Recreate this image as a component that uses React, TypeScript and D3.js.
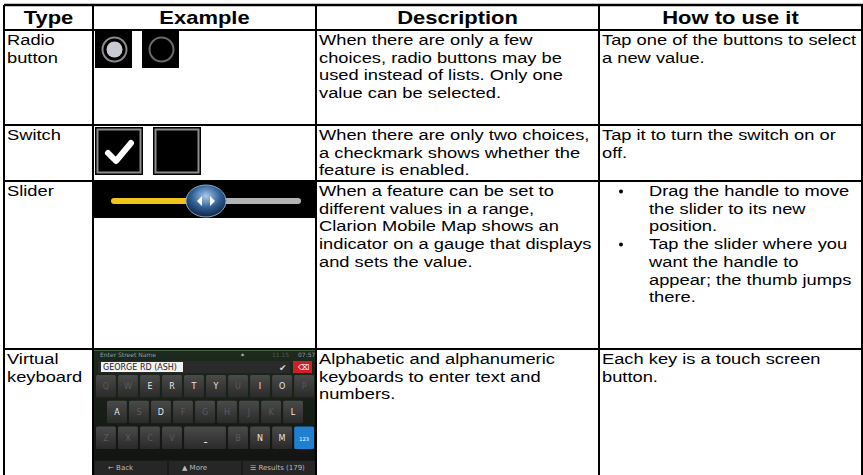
import * as d3 from "d3";

// table content
const COLUMNS = ["Type", "Example", "Description", "How to use it"];

const TYPES = [["Radio", "button"], ["Switch"], ["Slider"], ["Virtual", "keyboard"]];

const DESCRIPTIONS = [
  ["When there are only a few", "choices, radio buttons may be", "used instead of lists. Only one", "value can be selected."],
  ["When there are only two choices,", "a checkmark shows whether the", "feature is enabled."],
  ["When a feature can be set to", "different values in a range,", "Clarion Mobile Map shows an", "indicator on a gauge that displays", "and sets the value."],
  ["Alphabetic and alphanumeric", "keyboards to enter text and", "numbers."],
];

const HOW_TO = [
  [["Tap one of the buttons to select", "a new value."]],
  [["Tap it to turn the switch on or", "off."]],
  [
    ["Drag the handle to move", "the slider to its new", "position."],
    ["Tap the slider where you", "want the handle to", "appear; the thumb jumps", "there."],
  ],
  [["Each key is a touch screen", "button."]],
];

// keyboard screenshot content
const KEY_ROWS = [
  ["Q", "W", "E", "R", "T", "Y", "U", "I", "O", "P"],
  ["A", "S", "D", "F", "G", "H", "J", "K", "L"],
  ["Z", "X", "C", "V", "␣", "B", "N", "M", "123"],
];
const ACTIVE_KEYS = ["E", "R", "T", "Y", "I", "O", "A", "D", "L", "N", "M", "␣"];
const BOTTOM_BAR = ["← Back", "▲ More", "☰ Results (179)"];

// layout
const W = 863;
const H = 475;
const colEdges = [4, 93, 316, 599, 862];
const rowEdges = [5, 30, 125, 181, 349, 475];
const LH = 17.7;
const TOP = 15;
const SX = 1.22;
const FONT = "'Liberation Sans', Arial, sans-serif";

const x = d3.scaleOrdinal<string, number>().domain(COLUMNS).range(colEdges.slice(0, 4));
const colW = (c: string) => colEdges[COLUMNS.indexOf(c) + 1] - x(c);
const rowTop = (i: number) => rowEdges[i + 1];
const rowH = (i: number) => rowEdges[i + 2] - rowEdges[i + 1];

function Lines({ lines, x0, y0 }: { lines: string[]; x0: number; y0: number }) {
  return (
    <>
      {lines.map((t, i) => (
        <text
          key={i}
          transform={`translate(${x0},${y0 + i * LH}) scale(${SX},1)`}
          fontSize={15}
          fontFamily={FONT}
          fill="#000"
        >
          {t}
        </text>
      ))}
    </>
  );
}

function Radio({ x0, y0 }: { x0: number; y0: number }) {
  const s = 37;
  return (
    <g>
      {[0, 1].map((i) => {
        const bx = x0 + i * (s + 10);
        return (
          <g key={i}>
            <rect x={bx} y={y0} width={s} height={s} fill="#000" />
            <circle cx={bx + s / 2 + 1} cy={y0 + s / 2} r={12} fill="none" stroke={i === 0 ? "#8a8a8a" : "#6a6a6a"} strokeWidth={2} />
            {i === 0 && <circle cx={bx + s / 2 + 1} cy={y0 + s / 2} r={8} fill="#c8ccd2" />}
          </g>
        );
      })}
    </g>
  );
}

function Switch({ x0, y0 }: { x0: number; y0: number }) {
  const s = 48;
  return (
    <g>
      {[0, 1].map((i) => {
        const bx = x0 + i * (s + 10);
        return (
          <g key={i}>
            <rect x={bx} y={y0} width={s} height={s} fill="#000" />
            <rect x={bx + 2.5} y={y0 + 2.5} width={s - 5} height={s - 5} fill="none" stroke="#8c8c8c" strokeWidth={2} />
            {i === 0 && (
              <path
                d={`M${bx + 13},${y0 + 26} L${bx + 21},${y0 + 34} L${bx + 36},${y0 + 16}`}
                fill="none"
                stroke="#fff"
                strokeWidth={6}
                strokeLinecap="round"
                strokeLinejoin="round"
              />
            )}
          </g>
        );
      })}
    </g>
  );
}

function Slider({ x0, y0, w }: { x0: number; y0: number; w: number }) {
  const h = 36;
  const track = d3.scaleLinear().domain([0, 1]).range([x0 + 17, x0 + w - 15]);
  const knob = 0.5;
  const cy = y0 + h / 2 + 1;
  return (
    <g>
      <defs>
        <radialGradient id="knob" cx="50%" cy="35%" r="65%">
          <stop offset="0%" stopColor="#a9c9ea" />
          <stop offset="55%" stopColor="#2f5f95" />
          <stop offset="100%" stopColor="#0f2440" />
        </radialGradient>
      </defs>
      <rect x={x0} y={y0} width={w} height={h} fill="#000" />
      <rect x={track(knob)} y={cy - 3} width={track(1) - track(knob)} height={6} rx={3} fill="#b4b4b4" />
      <rect x={track(0)} y={cy - 3} width={track(knob) - track(0)} height={6} rx={3} fill="#f0c419" />
      <ellipse cx={track(knob)} cy={cy} rx={20} ry={16} fill="url(#knob)" stroke="#8aa7c7" strokeWidth={1} />
      <path d={`M${track(knob) - 9},${cy} l5,-5 v10 z M${track(knob) + 9},${cy} l-5,-5 v10 z`} fill="#fff" />
    </g>
  );
}

function Keyboard({ x0, y0, w, h }: { x0: number; y0: number; w: number; h: number }) {
  const pad = 2;
  const kx = d3.scaleBand().domain(d3.range(10).map(String)).range([x0 + pad, x0 + w - pad]).paddingInner(0.1);
  const rowY = d3.scaleBand().domain(d3.range(3).map(String)).range([y0 + 25, y0 + 99]).paddingInner(0.12);
  return (
    <g fontFamily="'DejaVu Sans', sans-serif">
      <defs>
        <linearGradient id="keyg" x1="0" y1="0" x2="0" y2="1">
          <stop offset="0%" stopColor="#4a4a4a" />
          <stop offset="100%" stopColor="#2a2a2a" />
        </linearGradient>
        <linearGradient id="bg" x1="0" y1="0" x2="0" y2="1">
          <stop offset="0%" stopColor="#1d2a1d" />
          <stop offset="100%" stopColor="#111" />
        </linearGradient>
      </defs>
      <rect x={x0} y={y0} width={w} height={h} fill="url(#bg)" />
      <line x1={x0} x2={x0 + w} y1={y0 + 0.5} y2={y0 + 0.5} stroke="#3c6a3c" />
      <text x={x0 + 6} y={y0 + 7} fontSize={6} fill="#9a9a9a">Enter Street Name</text>
      <text x={x0 + 146} y={y0 + 7} fontSize={6} fill="#bbb">✶</text>
      <text x={x0 + 178} y={y0 + 7} fontSize={6} fill="#555">11.15</text>
      <text x={x0 + 204} y={y0 + 7} fontSize={6} fill="#9a9a9a">07:57</text>
      <rect x={x0 + 4} y={y0 + 11} width={w - 30} height={12} fill="#2a2a2a" />
      <rect x={x0 + 7} y={y0 + 12} width={82} height={10} fill="#f2f2f2" />
      <text x={x0 + 9} y={y0 + 20} fontSize={8} fill="#222">GEORGE RD (ASH)</text>
      <text x={x0 + w - 37} y={y0 + 21} fontSize={9} fill="#ddd">✔</text>
      <rect x={x0 + w - 23} y={y0 + 11} width={19} height={12} fill="#d11f2a" />
      <text x={x0 + w - 18} y={y0 + 20} fontSize={8} fill="#fff">⌫</text>
      {KEY_ROWS.map((row, r) => {
        const off = r === 1 ? kx.step() / 2 : 0;
        let i = 0;
        return (
          <g key={r}>
            {row.map((k) => {
              const span = k === "␣" ? 2 : 1;
              const kxx = kx(String(i))! + off;
              const kw = kx.bandwidth() * span + kx.step() * (span - 1) * 0.1;
              i += span;
              const blue = k === "123";
              const on = ACTIVE_KEYS.includes(k);
              return (
                <g key={k}>
                  <rect x={kxx} y={rowY(String(r))} width={kw} height={rowY.bandwidth()} rx={1.5} fill={blue ? "#1f7fd0" : "url(#keyg)"} />
                  <text
                    x={kxx + kw / 2}
                    y={rowY(String(r))! + rowY.bandwidth() / 2 + 3}
                    fontSize={k === "123" ? 5 : 8}
                    textAnchor="middle"
                    fill={blue ? "#fff" : on ? "#e6e6e6" : "#5a5a5a"}
                  >
                    {k === "␣" ? "⎵" : k}
                  </text>
                </g>
              );
            })}
          </g>
        );
      })}
      <rect x={x0} y={y0 + h - 15} width={w} height={15} fill="#1a1a1a" />
      {BOTTOM_BAR.map((t, i) => (
        <g key={t}>
          <rect x={x0 + 1 + (i * w) / 3} y={y0 + h - 14} width={w / 3 - 2} height={14} fill="#262626" />
          <text x={x0 + 8 + (i * w) / 3 + (i === 2 ? 0 : 6)} y={y0 + h - 5} fontSize={7} fill="#bbb">{t}</text>
        </g>
      ))}
    </g>
  );
}

export default function App() {
  const ex = x("Example");
  const exW = colW("Example");
  return (
    <svg width={W} height={H} style={{ position: "absolute", left: 0, top: 0, background: "#fff" }}>
      <rect width={W} height={H} fill="#fff" />
      {/* header */}
      {COLUMNS.map((c) => (
        <text
          key={c}
          transform={`translate(${x(c) + colW(c) / 2},${rowEdges[1] - 6}) scale(${SX},1)`}
          textAnchor="middle"
          fontSize={18}
          fontWeight="bold"
          fontFamily={FONT}
        >
          {c}
        </text>
      ))}
      {/* body text */}
      {TYPES.map((lines, i) => (
        <Lines key={"t" + i} lines={lines} x0={x("Type") + 3} y0={rowTop(i) + TOP} />
      ))}
      {DESCRIPTIONS.map((lines, i) => (
        <Lines key={"d" + i} lines={lines} x0={x("Description") + 3} y0={rowTop(i) + TOP} />
      ))}
      {HOW_TO.map((blocks, i) => {
        const bullet = blocks.length > 1;
        let n = 0;
        return (
          <g key={"h" + i}>
            {blocks.map((lines, b) => {
              const y0 = rowTop(i) + TOP + n * LH;
              n += lines.length;
              return (
                <g key={b}>
                  {bullet && <circle cx={x("How to use it") + 22} cy={y0 - 4.5} r={2} fill="#000" />}
                  <Lines lines={lines} x0={x("How to use it") + (bullet ? 50 : 3)} y0={y0} />
                </g>
              );
            })}
          </g>
        );
      })}
      {/* example images */}
      <Radio x0={ex + 2} y0={rowTop(0) + 1} />
      <Switch x0={ex + 2} y0={rowTop(1) + 2} />
      <Slider x0={ex + 1} y0={rowTop(2) + 1} w={exW - 1} />
      <Keyboard x0={ex + 1} y0={rowTop(3) + 1} w={exW - 1} h={rowH(3) - 1} />
      {/* grid */}
      {rowEdges.slice(0, 5).map((y, i) => (
        <line key={"r" + i} x1={colEdges[0]} x2={W} y1={y} y2={y} stroke="#000" strokeWidth={i === 0 ? 2.5 : 2} />
      ))}
      {colEdges.map((cx, i) => (
        <line key={"c" + i} x1={cx} x2={cx} y1={rowEdges[0]} y2={H} stroke="#000" strokeWidth={2} />
      ))}
    </svg>
  );
}
